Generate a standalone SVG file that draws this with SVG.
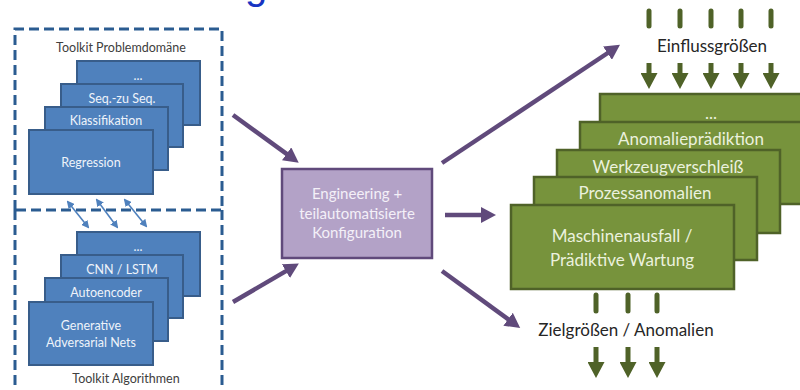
<svg xmlns="http://www.w3.org/2000/svg" width="800" height="390" viewBox="0 0 800 390">
  <style>
    text { font-family: Lato, "Open Sans", "Liberation Sans", sans-serif; text-anchor: middle; }
    .frame { fill: none; stroke: #2b5c91; stroke-width: 3; stroke-dasharray: 10 5; }
    .blue rect { fill: #4f81bd; stroke: #385d8a; stroke-width: 2; }
    .blue text { fill: #eef3fa; font-size: 12.5px; }
    .caption { fill: #404040; font-size: 12.5px; }
    .green rect { fill: #77933c; stroke: #4f6228; stroke-width: 2.5; }
    .green text { fill: #ebf1de; font-size: 17px; }
    .config rect { fill: #b3a2c7; stroke: #604a7b; stroke-width: 2.5; }
    .config text { fill: #f4f0f8; font-size: 15px; }
    .label { fill: #262626; font-size: 17px; }
    .flow { stroke: #604a7b; stroke-width: 4.5; fill: none; marker-end: url(#headPurple); }
    .stub { stroke: #4f6228; stroke-width: 5; stroke-linecap: round; }
    .down { stroke: #4f6228; stroke-width: 5; marker-end: url(#headGreen); }
    .link { stroke: #4f81bd; stroke-width: 1.6; marker-start: url(#headBlue); marker-end: url(#headBlue); }
  </style>
  <defs>
    <marker id="headPurple" markerUnits="userSpaceOnUse" markerWidth="15" markerHeight="16" refX="3" refY="8" orient="auto">
      <path d="M0,0 L15,8 L0,16 z" fill="#604a7b"/>
    </marker>
    <marker id="headGreen" markerUnits="userSpaceOnUse" markerWidth="17" markerHeight="17" refX="1" refY="8.5" orient="auto">
      <path d="M0,0 L16,8.5 L0,17 z" fill="#4f6228"/>
    </marker>
    <marker id="headBlue" markerUnits="userSpaceOnUse" markerWidth="8" markerHeight="8" refX="6" refY="4" orient="auto-start-reverse">
      <path d="M0,0 L8,4 L0,8 z" fill="#4f81bd"/>
    </marker>
  </defs>

  <rect width="800" height="390" fill="#ffffff"/>

  <!-- heading, cropped at the top edge -->
  <text x="256" y="-1" style="font-family:'Liberation Sans', sans-serif; font-size:40px; fill:#1734c2;">g</text>

  <!-- toolkit frames -->
  <g id="frame-problem">
    <path class="frame" d="M15,210 L15,29 L222,29 L222,210 L15,210"/>
    <text class="caption" x="121" y="52">Toolkit Problemdomäne</text>
  </g>
  <g id="frame-algorithms">
    <path class="frame" d="M15,210 L15,392 M222,210 L222,392"/>
    <text class="caption" x="126" y="383">Toolkit Algorithmen</text>
  </g>

  <!-- problem domain stack -->
  <g id="problem-more" class="blue">
    <rect x="77" y="61" width="123" height="64"/>
    <text x="138" y="80">...</text>
  </g>
  <g id="problem-seq2seq" class="blue">
    <rect x="61" y="84" width="122" height="63"/>
    <text x="122" y="103">Seq.-zu Seq.</text>
  </g>
  <g id="problem-classification" class="blue">
    <rect x="45" y="107" width="123" height="63"/>
    <text x="106" y="125">Klassifikation</text>
  </g>
  <g id="problem-regression" class="blue">
    <rect x="29" y="130" width="124" height="64"/>
    <text x="91" y="167">Regression</text>
  </g>

  <!-- algorithm stack -->
  <g id="algo-more" class="blue">
    <rect x="77" y="232" width="123" height="64"/>
    <text x="138" y="251">...</text>
  </g>
  <g id="algo-cnn-lstm" class="blue">
    <rect x="61" y="255" width="122" height="63"/>
    <text x="122" y="274">CNN / LSTM</text>
  </g>
  <g id="algo-autoencoder" class="blue">
    <rect x="45" y="278" width="123" height="63"/>
    <text x="106" y="297">Autoencoder</text>
  </g>
  <g id="algo-gan" class="blue">
    <rect x="29" y="302" width="124" height="63"/>
    <text x="91" y="330">Generative</text>
    <text x="91" y="347">Adversarial Nets</text>
  </g>

  <!-- configuration step -->
  <g id="configuration" class="config">
    <rect x="282" y="169" width="150" height="89"/>
    <text x="357" y="199">Engineering +</text>
    <text x="357" y="219">teilautomatisierte</text>
    <text x="357" y="238">Konfiguration</text>
  </g>

  <!-- use case stack -->
  <g id="usecase-more" class="green">
    <rect x="600" y="94" width="225" height="83"/>
    <text x="711" y="119">...</text>
  </g>
  <g id="usecase-anomaly-prediction" class="green">
    <rect x="580" y="122" width="223" height="82"/>
    <text x="691" y="145">Anomalieprädiktion</text>
  </g>
  <g id="usecase-tool-wear" class="green">
    <rect x="557" y="150" width="223" height="83"/>
    <text x="668" y="173">Werkzeugverschleiß</text>
  </g>
  <g id="usecase-process-anomalies" class="green">
    <rect x="534" y="177" width="223" height="83"/>
    <text x="645" y="199">Prozessanomalien</text>
  </g>
  <g id="usecase-machine-failure" class="green">
    <rect x="511" y="205" width="223" height="84"/>
    <text x="622" y="242">Maschinenausfall /</text>
    <text x="622" y="266">Prädiktive Wartung</text>
  </g>

  <!-- input and output quantities -->
  <g id="inputs">
    <text class="label" x="712" y="52">Einflussgrößen</text>
  </g>
  <g id="outputs">
    <text class="label" x="626" y="336">Zielgrößen / Anomalien</text>
  </g>

  <!-- connectors -->
  <g id="connectors">
    <line class="flow" x1="233" y1="115" x2="289" y2="155.6"/>
    <line class="flow" x1="233" y1="302" x2="288.5" y2="269.6"/>
    <line class="flow" x1="445" y1="215" x2="484" y2="215"/>
    <line class="flow" x1="442" y1="163" x2="610" y2="51.5"/>
    <line class="flow" x1="442" y1="271" x2="510.5" y2="321"/>

    <line class="link" x1="68" y1="202" x2="88" y2="227"/>
    <line class="link" x1="97" y1="200" x2="117" y2="227"/>
    <line class="link" x1="125" y1="200" x2="146" y2="226"/>

    <line class="stub" x1="649" y1="11" x2="649" y2="26"/>
    <line class="stub" x1="680" y1="11" x2="680" y2="26"/>
    <line class="stub" x1="711" y1="11" x2="711" y2="26"/>
    <line class="stub" x1="741" y1="11" x2="741" y2="26"/>
    <line class="stub" x1="771" y1="11" x2="771" y2="26"/>
    <line class="down" x1="649" y1="63" x2="649" y2="74"/>
    <line class="down" x1="680" y1="63" x2="680" y2="74"/>
    <line class="down" x1="711" y1="63" x2="711" y2="74"/>
    <line class="down" x1="741" y1="63" x2="741" y2="74"/>
    <line class="down" x1="771" y1="63" x2="771" y2="74"/>

    <line class="stub" x1="596" y1="295" x2="596" y2="311"/>
    <line class="stub" x1="628" y1="295" x2="628" y2="311"/>
    <line class="stub" x1="657" y1="295" x2="657" y2="311"/>
    <line class="down" x1="596" y1="347" x2="596" y2="363"/>
    <line class="down" x1="628" y1="347" x2="628" y2="363"/>
    <line class="down" x1="657" y1="347" x2="657" y2="363"/>
  </g>
</svg>
